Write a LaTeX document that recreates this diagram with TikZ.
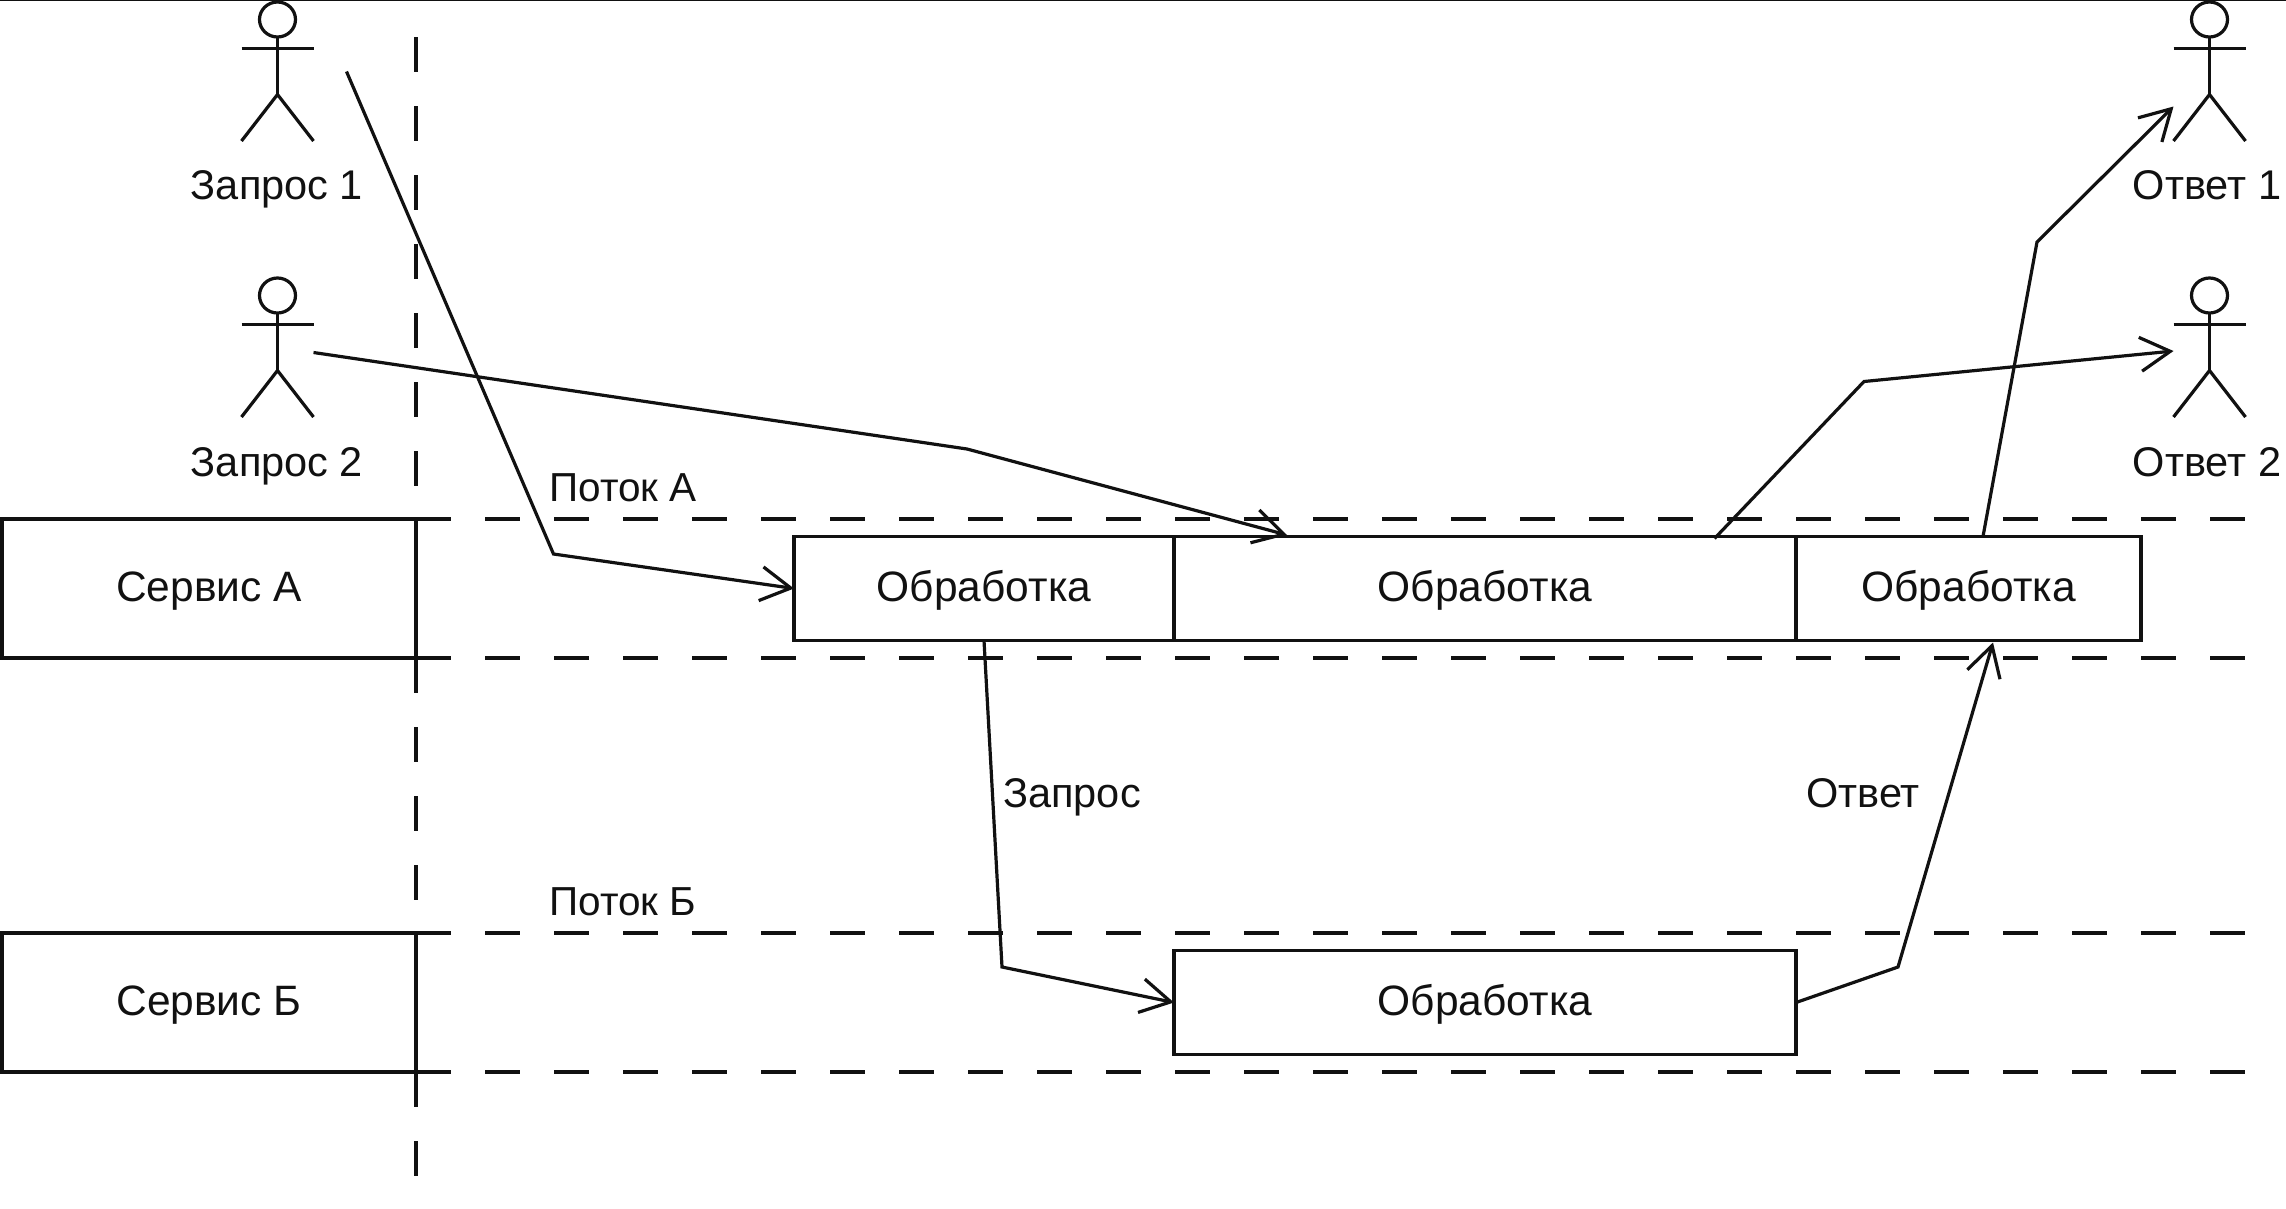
\documentclass[tikz,border=0pt]{standalone}
\usepackage{fontspec}
\setmainfont{Liberation Sans}
\usetikzlibrary{arrows.meta}
\definecolor{ink}{HTML}{111111}
\tikzset{
  x=1pt,y=-1pt,
  lane/.style={draw=ink,line width=3.2pt,dash pattern=on 35pt off 34pt},
  boxnode/.style={draw=ink,line width=3.2pt,fill=white,anchor=center,inner sep=0pt,outer sep=0pt,text height=34pt,text depth=8pt,font=\fontsize{42.5}{46}\selectfont,text=ink},
  txt/.style={draw=none,inner sep=0pt,text height=30pt,text depth=8pt,font=\fontsize{41.5}{45}\selectfont,text=ink},
  smalltxt/.style={draw=none,inner sep=0pt,text height=30pt,text depth=8pt,font=\fontsize{40.5}{44}\selectfont,text=ink},
  actorbox/.style={draw=none,inner sep=0pt,outer sep=0pt,minimum width=72pt,minimum height=139pt},
  conn/.style={line width=3.2pt,draw=ink,-{Straight Barb[length=30pt,width=34pt,line width=3.2pt]}},
  plain/.style={line width=3.2pt,draw=ink},
}
\newcommand{\actorfig}[1]{%
  \draw[plain] ([yshift=-17.5pt]#1.north) circle[x radius=18pt,y radius=17.5pt];
  \draw[plain] ([yshift=-35pt]#1.north) -- ([yshift=-92.5pt]#1.north);
  \draw[plain] ([yshift=-46.5pt]#1.north west) -- ([yshift=-46.5pt]#1.north east);
  \draw[plain] (#1.south west) -- ([yshift=-92.5pt]#1.north) -- (#1.south east);
}
\begin{document}
\begin{tikzpicture}
\useasboundingbox[draw=none,fill=white] (0,0) rectangle (2286,1208);
% top edge
\draw[draw=ink,line width=1.5pt] (0,0.5) -- (2286,0.5);
% vertical lane
\draw[lane] (416,37) -- (416,1177);
% service nodes
\node[boxnode,minimum width=414pt,minimum height=139pt] (srvA) at (209,588.5) {Сервис А};
\node[boxnode,minimum width=414pt,minimum height=139pt] (srvB) at (209,1002.5) {Сервис Б};
% lanes continuing from the service nodes
\coordinate (laneend) at (2245,0);
\draw[lane] (srvA.north east) -- (srvA.north east -| laneend);
\draw[lane] (srvA.south east) -- (srvA.south east -| laneend);
\draw[lane] (srvB.north east) -- (srvB.north east -| laneend);
\draw[lane] (srvB.south east) -- (srvB.south east -| laneend);
% processing nodes
\node[boxnode,minimum width=380pt,minimum height=104pt] (proc1) at (984,588.5) {Обработка};
\node[boxnode,minimum width=622pt,minimum height=104pt] (proc2) at (1485,588.5) {Обработка};
\node[boxnode,minimum width=345pt,minimum height=104pt] (proc3) at (1968.5,588.5) {Обработка};
\node[boxnode,minimum width=622pt,minimum height=104pt] (procB) at (1485,1002.5) {Обработка};
% actors
\node[actorbox] (req1) at (277.5,71.5) {};
\node[actorbox] (req2) at (277.5,347.5) {};
\node[actorbox] (resp1) at (2209.5,71.5) {};
\node[actorbox] (resp2) at (2209.5,347.5) {};
\actorfig{req1}\actorfig{req2}\actorfig{resp1}\actorfig{resp2}
% labels
\node[txt] (l1) at (277,188.5) {Запрос 1};
\node[txt] (l2) at (277,465) {Запрос 2};
\node[txt] (l3) at (2207,188.5) {Ответ 1};
\node[txt] (l4) at (2207,465) {Ответ 2};
\node[smalltxt] (fa) at (623,490.5) {Поток А};
\node[smalltxt] (fb) at (623,904.5) {Поток Б};
\node[txt] (zap) at (1072,796) {Запрос};
\node[txt] (otv) at (1863,796) {Ответ};
% waypoints
\coordinate (w1) at (553.5,554);
\coordinate (w2) at (967,449);
\coordinate (w3) at (1864,381.5);
\coordinate (w4) at (2037,242);
\coordinate (w5) at (1002,967);
\coordinate (w6) at (1898,967);
% connectors
\draw[conn] ([xshift=33pt]req1.east) -- (w1) -- (proc1.west);
\draw[conn] ([yshift=-5pt]req2.east) -- (w2) -- ([xshift=-198pt,yshift=1.5pt]proc2.north);
\draw[conn] ([xshift=229.5pt,yshift=-2pt]proc2.north) -- (w3) -- ([yshift=-3.5pt]resp2.west);
\draw[conn] ([xshift=14.5pt]proc3.north) -- (w4) -- ([yshift=-35pt]resp1.west);
\draw[conn] (proc1.south) -- (w5) -- (procB.west);
\draw[conn] (procB.east) -- (w6) -- ([xshift=24.5pt,yshift=-2pt]proc3.south);
\end{tikzpicture}
\end{document}
